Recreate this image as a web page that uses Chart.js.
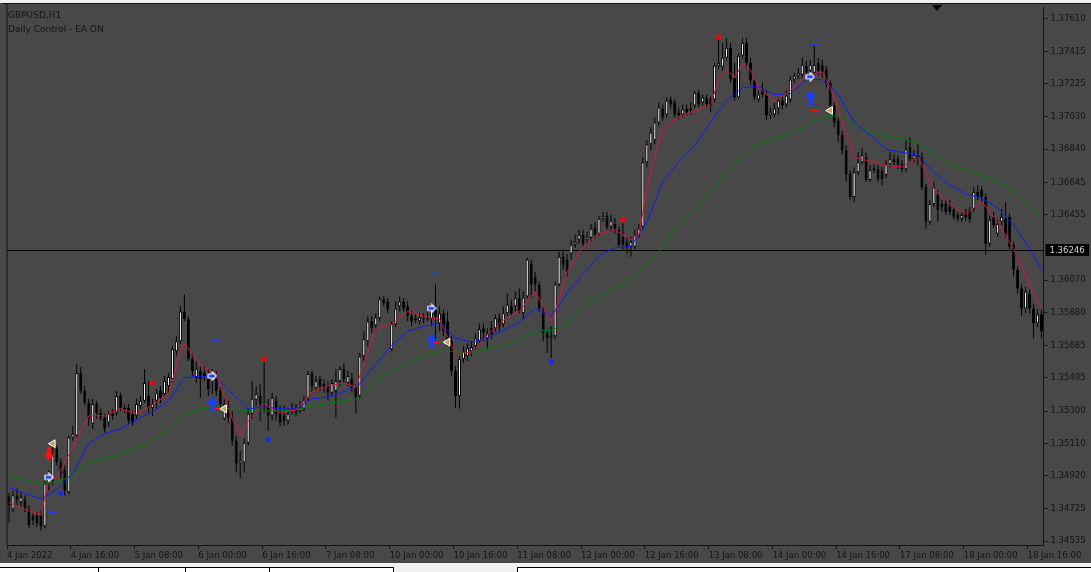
<!DOCTYPE html>
<html>
<head>
<meta charset="utf-8">
<title>GBPUSD,H1</title>
<script src="https://cdn.jsdelivr.net/npm/chart.js@4.4.0/dist/chart.umd.min.js"></script>
<style>
  html, body { margin: 0; padding: 0; background: #484848; }
  canvas { display: block; }
</style>
</head>
<body>
<canvas id="chart" width="1091" height="572"></canvas>
<script>
// GBPUSD H1, 4 Jan 2022 00:00 .. 18 Jan 19:00 (260 bars)
const days = ['4 Jan', '5 Jan', '6 Jan', '7 Jan', '10 Jan', '11 Jan', '12 Jan', '13 Jan', '14 Jan', '17 Jan', '18 Jan'];
const barsPerDay = [24, 24, 24, 24, 24, 24, 24, 24, 24, 24, 20];
const tickEvery = 16;
const tickLabels = ['4 Jan 2022', '4 Jan 16:00', '5 Jan 08:00', '6 Jan 00:00', '6 Jan 16:00', '7 Jan 08:00',
  '10 Jan 00:00', '10 Jan 16:00', '11 Jan 08:00', '12 Jan 00:00', '12 Jan 16:00', '13 Jan 08:00',
  '14 Jan 00:00', '14 Jan 16:00', '17 Jan 08:00', '18 Jan 00:00', '18 Jan 16:00'];
const priceTicks = [1.37610, 1.37415, 1.37225, 1.37030, 1.36840, 1.36645, 1.36455, 1.36070,
  1.35880, 1.35685, 1.35495, 1.35300, 1.35110, 1.34920, 1.34725, 1.34535];
const priceMin = 1.34512, priceMax = 1.37677;
const hLine = 1.36246;

const open = [
  1.34798, 1.34722, 1.34804, 1.34763, 1.34781, 1.34722, 1.34681, 1.34687, 1.34693, 1.34623,
  1.34874, 1.34892, 1.35079, 1.34997, 1.34956, 1.34822, 1.35144, 1.35155, 1.35524, 1.35418,
  1.35348, 1.35225, 1.35342, 1.35290, 1.35261, 1.35231, 1.35290, 1.35290, 1.35389, 1.35319,
  1.35319, 1.35284, 1.35272, 1.35331, 1.35360, 1.35389, 1.35319, 1.35360, 1.35418, 1.35401,
  1.35448, 1.35489, 1.35652, 1.35711, 1.35886, 1.35840, 1.35606, 1.35495, 1.35535, 1.35524,
  1.35518, 1.35489, 1.35506, 1.35418, 1.35255, 1.35331, 1.35261, 1.35126, 1.34991, 1.34997,
  1.35114, 1.35284, 1.35366, 1.35389, 1.35342, 1.35331, 1.35272, 1.35360, 1.35301, 1.35272,
  1.35243, 1.35301, 1.35319, 1.35301, 1.35313, 1.35372, 1.35524, 1.35436, 1.35489, 1.35459,
  1.35448, 1.35407, 1.35418, 1.35477, 1.35547, 1.35465, 1.35489, 1.35436, 1.35389, 1.35623,
  1.35711, 1.35828, 1.35805, 1.35846, 1.35957, 1.35945, 1.35664, 1.35810, 1.35916, 1.35945,
  1.35916, 1.35857, 1.35834, 1.35828, 1.35851, 1.35840, 1.35840, 1.35898, 1.35816, 1.35875,
  1.35828, 1.35711, 1.35535, 1.35389, 1.35606, 1.35623, 1.35652, 1.35682, 1.35711, 1.35787,
  1.35729, 1.35787, 1.35787, 1.35846, 1.35810, 1.35875, 1.35916, 1.35916, 1.35963, 1.35875,
  1.35974, 1.36167, 1.36085, 1.36044, 1.35886, 1.35758, 1.35734, 1.35740, 1.36044, 1.36208,
  1.36191, 1.36226, 1.36278, 1.36308, 1.36337, 1.36308, 1.36319, 1.36378, 1.36343, 1.36431,
  1.36448, 1.36384, 1.36401, 1.36366, 1.36325, 1.36296, 1.36267, 1.36267, 1.36337, 1.36384,
  1.36764, 1.36869, 1.36893, 1.36998, 1.37080, 1.37045, 1.37133, 1.37115, 1.37056, 1.37045,
  1.37080, 1.37080, 1.37097, 1.37173, 1.37115, 1.37144, 1.37133, 1.37133, 1.37331, 1.37326,
  1.37378, 1.37437, 1.37261, 1.37144, 1.37390, 1.37466, 1.37349, 1.37244, 1.37133, 1.37191,
  1.37162, 1.37039, 1.37045, 1.37080, 1.37127, 1.37103, 1.37133, 1.37250, 1.37273, 1.37279,
  1.37331, 1.37302, 1.37290, 1.37349, 1.37337, 1.37308, 1.37232, 1.37097, 1.37010, 1.36922,
  1.36834, 1.36694, 1.36559, 1.36705, 1.36764, 1.36793, 1.36659, 1.36717, 1.36723, 1.36717,
  1.36688, 1.36752, 1.36782, 1.36782, 1.36752, 1.36723, 1.36852, 1.36782, 1.36805, 1.36793,
  1.36618, 1.36413, 1.36518, 1.36571, 1.36518, 1.36518, 1.36501, 1.36483, 1.36454, 1.36431,
  1.36471, 1.36483, 1.36489, 1.36588, 1.36600, 1.36559, 1.36284, 1.36442, 1.36343, 1.36413,
  1.36431, 1.36442, 1.36278, 1.36132, 1.36021, 1.35904, 1.35992, 1.35904, 1.35816, 1.35869
];
const high = [
  1.34816, 1.34833, 1.34845, 1.34822, 1.34804, 1.34746, 1.34705, 1.34705, 1.34716, 1.34892,
  1.34950, 1.35097, 1.35097, 1.35021, 1.34980, 1.35155, 1.35214, 1.35576, 1.35559, 1.35448,
  1.35372, 1.35372, 1.35360, 1.35313, 1.35284, 1.35301, 1.35313, 1.35418, 1.35407, 1.35337,
  1.35342, 1.35301, 1.35372, 1.35389, 1.35547, 1.35477, 1.35372, 1.35430, 1.35448, 1.35506,
  1.35524, 1.35682, 1.35740, 1.35916, 1.35986, 1.35857, 1.35641, 1.35594, 1.35565, 1.35565,
  1.35547, 1.35547, 1.35535, 1.35442, 1.35372, 1.35360, 1.35301, 1.35155, 1.35067, 1.35138,
  1.35313, 1.35477, 1.35448, 1.35459, 1.35594, 1.35372, 1.35407, 1.35389, 1.35331, 1.35331,
  1.35313, 1.35348, 1.35342, 1.35360, 1.35389, 1.35535, 1.35535, 1.35506, 1.35506, 1.35489,
  1.35477, 1.35489, 1.35547, 1.35565, 1.35582, 1.35535, 1.35524, 1.35459, 1.35641, 1.35769,
  1.35857, 1.35857, 1.35875, 1.35974, 1.35974, 1.35963, 1.35828, 1.35945, 1.35974, 1.35963,
  1.35945, 1.35886, 1.35869, 1.35875, 1.35875, 1.35886, 1.35933, 1.36044, 1.35916, 1.35898,
  1.35886, 1.35740, 1.35565, 1.35623, 1.35682, 1.35699, 1.35711, 1.35758, 1.35816, 1.35816,
  1.35787, 1.35828, 1.35869, 1.35875, 1.35916, 1.35992, 1.35957, 1.36003, 1.36021, 1.36003,
  1.36202, 1.36191, 1.36120, 1.36062, 1.35916, 1.35781, 1.35799, 1.36062, 1.36237, 1.36237,
  1.36226, 1.36308, 1.36337, 1.36366, 1.36366, 1.36354, 1.36401, 1.36413, 1.36448, 1.36471,
  1.36471, 1.36454, 1.36436, 1.36384, 1.36407, 1.36325, 1.36325, 1.36366, 1.36401, 1.36793,
  1.36893, 1.36969, 1.37027, 1.37115, 1.37103, 1.37144, 1.37150, 1.37133, 1.37086, 1.37103,
  1.37103, 1.37115, 1.37185, 1.37191, 1.37162, 1.37162, 1.37150, 1.37349, 1.37501, 1.37466,
  1.37495, 1.37466, 1.37349, 1.37407, 1.37495, 1.37495, 1.37378, 1.37261, 1.37185, 1.37232,
  1.37185, 1.37086, 1.37115, 1.37144, 1.37150, 1.37185, 1.37273, 1.37290, 1.37320, 1.37378,
  1.37361, 1.37367, 1.37448, 1.37378, 1.37367, 1.37331, 1.37244, 1.37115, 1.37027, 1.36951,
  1.36863, 1.36717, 1.36735, 1.36822, 1.36846, 1.36822, 1.36746, 1.36752, 1.36746, 1.36735,
  1.36776, 1.36822, 1.36811, 1.36805, 1.36776, 1.36899, 1.36910, 1.36834, 1.36869, 1.36822,
  1.36635, 1.36542, 1.36647, 1.36600, 1.36542, 1.36542, 1.36542, 1.36507, 1.36471, 1.36471,
  1.36489, 1.36501, 1.36618, 1.36629, 1.36624, 1.36577, 1.36448, 1.36471, 1.36425, 1.36489,
  1.36530, 1.36460, 1.36296, 1.36150, 1.36044, 1.36033, 1.36015, 1.35933, 1.35898, 1.35898
];
const low = [
  1.34646, 1.34705, 1.34746, 1.34728, 1.34705, 1.34611, 1.34629, 1.34617, 1.34599, 1.34611,
  1.34833, 1.34863, 1.34980, 1.34904, 1.34804, 1.34810, 1.35126, 1.35144, 1.35401, 1.35331,
  1.35214, 1.35196, 1.35255, 1.35243, 1.35173, 1.35208, 1.35249, 1.35272, 1.35301, 1.35290,
  1.35220, 1.35214, 1.35255, 1.35313, 1.35348, 1.35290, 1.35272, 1.35313, 1.35348, 1.35383,
  1.35407, 1.35465, 1.35629, 1.35693, 1.35828, 1.35594, 1.35506, 1.35465, 1.35378, 1.35477,
  1.35389, 1.35401, 1.35389, 1.35313, 1.35243, 1.35231, 1.35097, 1.34939, 1.34904, 1.34939,
  1.35097, 1.35255, 1.35331, 1.35243, 1.35290, 1.35184, 1.35243, 1.35243, 1.35208, 1.35214,
  1.35220, 1.35278, 1.35266, 1.35290, 1.35301, 1.35360, 1.35407, 1.35418, 1.35418, 1.35407,
  1.35360, 1.35389, 1.35261, 1.35448, 1.35465, 1.35448, 1.35407, 1.35284, 1.35372, 1.35594,
  1.35682, 1.35758, 1.35769, 1.35828, 1.35916, 1.35875, 1.35652, 1.35793, 1.35886, 1.35886,
  1.35828, 1.35799, 1.35816, 1.35810, 1.35816, 1.35828, 1.35799, 1.35711, 1.35769, 1.35740,
  1.35682, 1.35506, 1.35319, 1.35313, 1.35582, 1.35594, 1.35623, 1.35664, 1.35699, 1.35711,
  1.35664, 1.35723, 1.35769, 1.35769, 1.35793, 1.35857, 1.35857, 1.35886, 1.35875, 1.35840,
  1.35963, 1.35963, 1.36003, 1.35886, 1.35711, 1.35641, 1.35612, 1.35723, 1.36033, 1.36132,
  1.36091, 1.36191, 1.36261, 1.36284, 1.36267, 1.36284, 1.36296, 1.36314, 1.36331, 1.36413,
  1.36366, 1.36354, 1.36343, 1.36267, 1.36249, 1.36226, 1.36208, 1.36249, 1.36319, 1.36366,
  1.36735, 1.36834, 1.36869, 1.36980, 1.37010, 1.37027, 1.37080, 1.37027, 1.37016, 1.37027,
  1.37039, 1.37045, 1.37080, 1.37086, 1.37097, 1.37086, 1.37056, 1.37115, 1.37314, 1.37302,
  1.37361, 1.37232, 1.37127, 1.37133, 1.37372, 1.37320, 1.37220, 1.37127, 1.37115, 1.37144,
  1.37010, 1.37016, 1.37027, 1.37045, 1.37074, 1.37086, 1.37115, 1.37232, 1.37255, 1.37261,
  1.37267, 1.37279, 1.37261, 1.37279, 1.37261, 1.37203, 1.37080, 1.36969, 1.36881, 1.36811,
  1.36647, 1.36542, 1.36530, 1.36688, 1.36752, 1.36647, 1.36647, 1.36700, 1.36647, 1.36629,
  1.36670, 1.36735, 1.36746, 1.36723, 1.36705, 1.36705, 1.36764, 1.36764, 1.36746, 1.36600,
  1.36372, 1.36395, 1.36501, 1.36413, 1.36471, 1.36454, 1.36454, 1.36425, 1.36413, 1.36413,
  1.36419, 1.36407, 1.36471, 1.36542, 1.36530, 1.36220, 1.36267, 1.36378, 1.36325, 1.36395,
  1.36319, 1.36249, 1.36091, 1.35992, 1.35857, 1.35875, 1.35875, 1.35729, 1.35793, 1.35729
];
const close = [
  1.34746, 1.34804, 1.34775, 1.34793, 1.34722, 1.34629, 1.34658, 1.34640, 1.34623, 1.34874,
  1.34910, 1.35038, 1.34997, 1.34933, 1.34833, 1.35144, 1.35167, 1.35524, 1.35418, 1.35348,
  1.35261, 1.35342, 1.35290, 1.35261, 1.35196, 1.35284, 1.35272, 1.35389, 1.35319, 1.35307,
  1.35243, 1.35231, 1.35342, 1.35360, 1.35465, 1.35319, 1.35342, 1.35407, 1.35378, 1.35477,
  1.35500, 1.35664, 1.35711, 1.35886, 1.35840, 1.35606, 1.35535, 1.35547, 1.35489, 1.35506,
  1.35430, 1.35524, 1.35418, 1.35342, 1.35342, 1.35261, 1.35126, 1.34991, 1.35009, 1.35114,
  1.35284, 1.35372, 1.35401, 1.35342, 1.35331, 1.35272, 1.35378, 1.35284, 1.35231, 1.35243,
  1.35284, 1.35313, 1.35290, 1.35319, 1.35360, 1.35518, 1.35448, 1.35477, 1.35448, 1.35436,
  1.35407, 1.35465, 1.35477, 1.35547, 1.35489, 1.35506, 1.35436, 1.35378, 1.35623, 1.35723,
  1.35828, 1.35787, 1.35851, 1.35957, 1.35933, 1.35898, 1.35810, 1.35904, 1.35945, 1.35904,
  1.35857, 1.35828, 1.35846, 1.35851, 1.35840, 1.35851, 1.35898, 1.35857, 1.35875, 1.35769,
  1.35711, 1.35535, 1.35389, 1.35606, 1.35652, 1.35670, 1.35676, 1.35729, 1.35781, 1.35758,
  1.35758, 1.35752, 1.35846, 1.35799, 1.35875, 1.35927, 1.35875, 1.35963, 1.35886, 1.35968,
  1.36191, 1.36044, 1.36044, 1.35904, 1.35758, 1.35729, 1.35746, 1.36044, 1.36208, 1.36161,
  1.36120, 1.36278, 1.36296, 1.36337, 1.36284, 1.36325, 1.36372, 1.36337, 1.36431, 1.36448,
  1.36384, 1.36419, 1.36372, 1.36278, 1.36278, 1.36267, 1.36296, 1.36337, 1.36372, 1.36764,
  1.36869, 1.36939, 1.36998, 1.37086, 1.37027, 1.37127, 1.37103, 1.37045, 1.37039, 1.37074,
  1.37056, 1.37068, 1.37173, 1.37103, 1.37144, 1.37103, 1.37097, 1.37331, 1.37349, 1.37378,
  1.37437, 1.37250, 1.37144, 1.37390, 1.37466, 1.37349, 1.37244, 1.37144, 1.37162, 1.37162,
  1.37039, 1.37056, 1.37080, 1.37127, 1.37097, 1.37156, 1.37250, 1.37273, 1.37290, 1.37337,
  1.37290, 1.37337, 1.37337, 1.37302, 1.37290, 1.37232, 1.37097, 1.36998, 1.36922, 1.36834,
  1.36694, 1.36559, 1.36705, 1.36764, 1.36805, 1.36659, 1.36717, 1.36729, 1.36665, 1.36665,
  1.36752, 1.36782, 1.36764, 1.36752, 1.36723, 1.36840, 1.36782, 1.36805, 1.36782, 1.36618,
  1.36413, 1.36518, 1.36618, 1.36483, 1.36501, 1.36471, 1.36471, 1.36442, 1.36431, 1.36454,
  1.36442, 1.36425, 1.36588, 1.36559, 1.36559, 1.36284, 1.36425, 1.36395, 1.36401, 1.36442,
  1.36337, 1.36267, 1.36132, 1.36021, 1.35904, 1.36003, 1.35904, 1.35816, 1.35869, 1.35769
];

// moving averages (bar index -> value)
const fastAt = [0, 4, 8, 9, 10, 12, 16, 20, 24, 28, 32, 36, 40, 43, 44, 48, 52, 56, 58, 60,
  64, 68, 72, 76, 80, 84, 87, 88, 92, 96, 100, 104, 108, 112, 116, 120, 124, 128, 132, 136,
  137, 140, 144, 148, 152, 156, 158, 159, 160, 162, 164, 168, 172, 176, 178, 180, 182, 184, 186, 188,
  192, 196, 200, 204, 206, 208, 212, 216, 220, 224, 228, 232, 236, 240, 244, 248, 252, 256, 259];
const maFast = [1.34763, 1.34722, 1.34687, 1.34793, 1.34892, 1.34910, 1.35085, 1.35272, 1.35272, 1.35313,
  1.35284, 1.35337, 1.35401, 1.35641, 1.35699, 1.35565, 1.35518, 1.35255, 1.35155, 1.35243,
  1.35342, 1.35290, 1.35307, 1.35413, 1.35448, 1.35465, 1.35442, 1.35506, 1.35787, 1.35810,
  1.35886, 1.35857, 1.35840, 1.35635, 1.35647, 1.35746, 1.35834, 1.35886, 1.36003, 1.35828,
  1.35886, 1.36120, 1.36267, 1.36343, 1.36366, 1.36308, 1.36337, 1.36471, 1.36606, 1.36805,
  1.36957, 1.37027, 1.37068, 1.37103, 1.37250, 1.37308, 1.37261, 1.37343, 1.37308, 1.37203,
  1.37121, 1.37185, 1.37273, 1.37296, 1.37203, 1.37074, 1.36793, 1.36770, 1.36746, 1.36735,
  1.36793, 1.36606, 1.36518, 1.36460, 1.36530, 1.36413, 1.36255, 1.36050, 1.35904];

const maAt = [0, 4, 8, 12, 16, 20, 24, 28, 32, 36, 40, 44, 48, 52, 56, 60, 64, 68, 72, 76,
  80, 84, 88, 92, 96, 100, 104, 108, 112, 116, 120, 124, 128, 132, 136, 140, 144, 148, 152, 156,
  160, 164, 168, 172, 176, 180, 184, 188, 192, 196, 200, 204, 208, 212, 216, 220, 224, 228, 232, 236,
  240, 244, 248, 252, 256, 259];
const maMid = [1.34851, 1.34816, 1.34781, 1.34839, 1.34933, 1.35108, 1.35167, 1.35196, 1.35249, 1.35296,
  1.35360, 1.35495, 1.35506, 1.35495, 1.35401, 1.35313, 1.35325, 1.35313, 1.35313, 1.35372,
  1.35383, 1.35413, 1.35459, 1.35576, 1.35688, 1.35769, 1.35799, 1.35816, 1.35729, 1.35705,
  1.35729, 1.35775, 1.35822, 1.35904, 1.35857, 1.35992, 1.36103, 1.36214, 1.36261, 1.36267,
  1.36413, 1.36647, 1.36764, 1.36863, 1.36998, 1.37127, 1.37203, 1.37209, 1.37162, 1.37168,
  1.37250, 1.37250, 1.37162, 1.36998, 1.36922, 1.36840, 1.36822, 1.36805, 1.36705, 1.36629,
  1.36577, 1.36553, 1.36495, 1.36395, 1.36255, 1.36132];
const maSlow = [1.34921, 1.34898, 1.34874, 1.34880, 1.34921, 1.34991, 1.35021, 1.35044, 1.35085, 1.35126,
  1.35196, 1.35278, 1.35313, 1.35325, 1.35313, 1.35301, 1.35301, 1.35301, 1.35307, 1.35331,
  1.35342, 1.35360, 1.35378, 1.35477, 1.35535, 1.35582, 1.35629, 1.35652, 1.35652, 1.35641,
  1.35670, 1.35688, 1.35723, 1.35769, 1.35775, 1.35822, 1.35910, 1.35974, 1.36027, 1.36074,
  1.36161, 1.36267, 1.36395, 1.36483, 1.36588, 1.36705, 1.36793, 1.36869, 1.36899, 1.36934,
  1.36980, 1.37027, 1.37039, 1.36986, 1.36939, 1.36916, 1.36899, 1.36875, 1.36811, 1.36752,
  1.36717, 1.36682, 1.36653, 1.36588, 1.36501, 1.36442];

// indicator signals (bar index, price)
const redDotAt = [36, 64, 154, 178], redDot = [1.35465, 1.35606, 1.36425, 1.37501];
const blueDotAt = [13, 65, 136], blueDot = [1.34816, 1.35132, 1.35588];
const buyArrowAt = [51, 106, 201], buyArrow = [1.35342, 1.35711, 1.37144];
const sellArrowAt = [10], sellArrow = [1.35050];
const exitMarkAt = [11, 54, 110, 206], exitMark = [1.35108, 1.35313, 1.35705, 1.37068];
const entryMarkAt = [10, 51, 106, 201], entryMark = [1.34910, 1.35506, 1.35904, 1.37267];
const blueDashAt = [11, 52, 107, 202], blueDash = [1.34705, 1.35717, 1.36109, 1.37460];
const redDashAt = [52, 107, 202], redDash = [1.35313, 1.35705, 1.37068];

const fg = '#141414';
const bg = '#484848';

const labels = [];
days.forEach((d, k) => {
  for (let h = 0; h < barsPerDay[k]; h++) labels.push(d + ' ' + String(h).padStart(2, '0') + ':00');
});

function sparse(at, vals) {
  const a = new Array(labels.length).fill(null);
  at.forEach((k, j) => { a[k] = vals[j]; });
  return a;
}

function arrowImg(color, down) {
  const c = document.createElement('canvas');
  c.width = 12; c.height = 14;
  const g = c.getContext('2d');
  if (down) { g.translate(0, 14); g.scale(1, -1); }
  g.fillStyle = color;
  g.beginPath();
  g.moveTo(6, 0); g.lineTo(12, 6.5); g.lineTo(8, 6.5); g.lineTo(8, 14);
  g.lineTo(4, 14); g.lineTo(4, 6.5); g.lineTo(0, 6.5);
  g.closePath(); g.fill();
  return c;
}
function smallArrowImg(fill) {
  const c = document.createElement('canvas');
  c.width = 10; c.height = 10;
  const g = c.getContext('2d');
  g.beginPath();
  g.moveTo(1, 3); g.lineTo(5, 3); g.lineTo(5, 1); g.lineTo(9, 5); g.lineTo(5, 9); g.lineTo(5, 7); g.lineTo(1, 7);
  g.closePath();
  g.fillStyle = fill; g.fill();
  g.strokeStyle = '#ffffff'; g.lineWidth = 1.2; g.stroke();
  return c;
}

const bodies = open.map((o, i) => [o, close[i]]);
const wicks = low.map((l, i) => [l, high[i]]);
const bodyColors = open.map((o, i) => (close[i] >= o ? '#ffffff' : '#000000'));

function maLine(at, vals, color, order) {
  return { type: 'line', data: sparse(at, vals), borderColor: color, borderWidth: 1, pointRadius: 0,
    spanGaps: true, tension: 0, order: order };
}
function marks(at, vals, opts) {
  return Object.assign({ type: 'line', data: sparse(at, vals), showLine: false, order: 0 }, opts);
}

const chrome = {
  id: 'chrome',
  beforeDraw(chart) {
    const g = chart.ctx, a = chart.chartArea, W = chart.width, H = chart.height;
    g.save();
    g.fillStyle = bg; g.fillRect(0, 0, W, H);
    g.fillStyle = '#f0f0f0'; g.fillRect(0, 0, W, 3); g.fillRect(0, 563, W, H - 563);
    g.fillStyle = '#ffffff'; g.fillRect(0, 568, 394, H - 568); g.fillRect(517, 568, W - 517, H - 568);
    g.strokeStyle = '#000000'; g.lineWidth = 1;
    g.beginPath();
    g.moveTo(0, 567.5); g.lineTo(394, 567.5);
    [98.5, 185.5, 269.5, 393.5].forEach(x => { g.moveTo(x, 567.5); g.lineTo(x, H); });
    g.moveTo(517, 567.5); g.lineTo(W, 567.5); g.moveTo(517.5, 567.5); g.lineTo(517.5, H);
    g.stroke();
    g.strokeStyle = fg;
    g.beginPath();
    g.moveTo(3, 3.5); g.lineTo(W, 3.5);
    g.moveTo(a.left, 3); g.lineTo(a.left, a.bottom);
    g.stroke();
    g.restore();
  },
  beforeDatasetsDraw(chart) {
    const g = chart.ctx, a = chart.chartArea;
    const y = Math.round(chart.scales.y.getPixelForValue(hLine)) + 0.5;
    g.save();
    g.strokeStyle = '#000000'; g.lineWidth = 1;
    g.beginPath(); g.moveTo(a.left, y); g.lineTo(a.right, y); g.stroke();
    g.restore();
  },
  afterDraw(chart) {
    const g = chart.ctx, a = chart.chartArea, W = chart.width;
    const y = Math.round(chart.scales.y.getPixelForValue(hLine)) + 0.5;
    g.save();
    g.fillStyle = '#000000';
    g.fillRect(a.right + 2, y - 6.5, W - a.right - 4, 12);
    g.fillStyle = '#d4d4d4';
    g.font = '8.5px "DejaVu Sans"';
    g.textBaseline = 'middle';
    g.fillText(hLine.toFixed(5), a.right + 6, y);
    g.fillStyle = fg;
    g.font = '9px "DejaVu Sans"';
    g.textBaseline = 'alphabetic';
    g.fillText('GBPUSD,H1', 8, 18);
    g.fillText('Daily Control - EA ON', 8, 32);
    g.fillStyle = '#000000';
    g.beginPath(); g.moveTo(932, 5); g.lineTo(942, 5); g.lineTo(937, 11); g.closePath(); g.fill();
    g.restore();
  }
};

Chart.defaults.font = { family: 'DejaVu Sans', size: 8.5 };
Chart.defaults.color = fg;

new Chart(document.getElementById('chart'), {
  type: 'bar',
  data: {
    labels: labels,
    datasets: [
      { data: wicks, backgroundColor: '#000000', borderWidth: 0, barThickness: 1, grouped: false,
        inflateAmount: 0, order: 11 },
      { data: bodies, backgroundColor: bodyColors, borderColor: '#000000', borderWidth: 1,
        borderSkipped: false, barThickness: 3, grouped: false, inflateAmount: 0, order: 10 },
      maLine(maAt, maSlow, '#008000', 3),
      maLine(maAt, maMid, '#0a1eff', 2),
      maLine(fastAt, maFast, '#dc143c', 1),
      marks(redDotAt, redDot, { pointStyle: 'circle', pointRadius: 2.5, pointBackgroundColor: '#ff0000', pointBorderWidth: 0 }),
      marks(blueDotAt, blueDot, { pointStyle: 'circle', pointRadius: 2.5, pointBackgroundColor: '#1428ff', pointBorderWidth: 0 }),
      marks(buyArrowAt, buyArrow, { pointStyle: arrowImg('#1a3cff', false), pointRadius: 6 }),
      marks(sellArrowAt, sellArrow, { pointStyle: arrowImg('#ff1010', true), pointRadius: 6 }),
      marks(exitMarkAt, exitMark, { pointStyle: 'triangle', pointRotation: 270, pointRadius: 4.5,
        pointBackgroundColor: '#c9a063', pointBorderColor: '#ffffff', pointBorderWidth: 1 }),
      marks(entryMarkAt, entryMark, { pointStyle: entryMarkAt.map(k => smallArrowImg(k === 10 ? '#ff1010' : '#1a3cff')), pointRadius: 5 }),
      marks(blueDashAt, blueDash, { pointStyle: 'line', pointRadius: 4, pointBorderColor: '#1a3cff', pointBorderWidth: 1.5 }),
      marks(redDashAt, redDash, { pointStyle: 'line', pointRadius: 4, pointBorderColor: '#ff1010', pointBorderWidth: 1.5 })
    ]
  },
  options: {
    responsive: false,
    animation: false,
    devicePixelRatio: 1,
    events: [],
    layout: { padding: { left: 3.5, top: 4, right: 0, bottom: 0 } },
    plugins: { legend: { display: false }, tooltip: { enabled: false } },
    scales: {
      x: {
        type: 'category',
        offset: true,
        grid: { drawOnChartArea: false, drawTicks: true, tickLength: 4, offset: true,
          color: ctx => (ctx.index % tickEvery === 0 ? fg : 'rgba(0,0,0,0)') },
        border: { display: true, color: fg, width: 1 },
        ticks: { autoSkip: false, maxRotation: 0, minRotation: 0, align: 'start', padding: 2, labelOffset: -2,
          color: fg, callback: (v, i) => (i % tickEvery === 0 ? tickLabels[i / tickEvery] : '') },
        afterFit: s => { s.height = 27; s.paddingLeft = 0; s.paddingRight = 0; }
      },
      y: {
        position: 'right',
        min: priceMin,
        max: priceMax,
        afterBuildTicks: s => { s.ticks = priceTicks.map(v => ({ value: v })); },
        grid: { drawOnChartArea: false, drawTicks: true, tickLength: 4, color: fg },
        border: { display: true, color: fg, width: 1 },
        ticks: { padding: 3, color: fg, callback: v => Number(v).toFixed(5) },
        afterFit: s => { s.width = 47.5; s.paddingTop = 0; s.paddingBottom = 0; }
      }
    }
  },
  plugins: [chrome]
});
</script>
</body>
</html>
